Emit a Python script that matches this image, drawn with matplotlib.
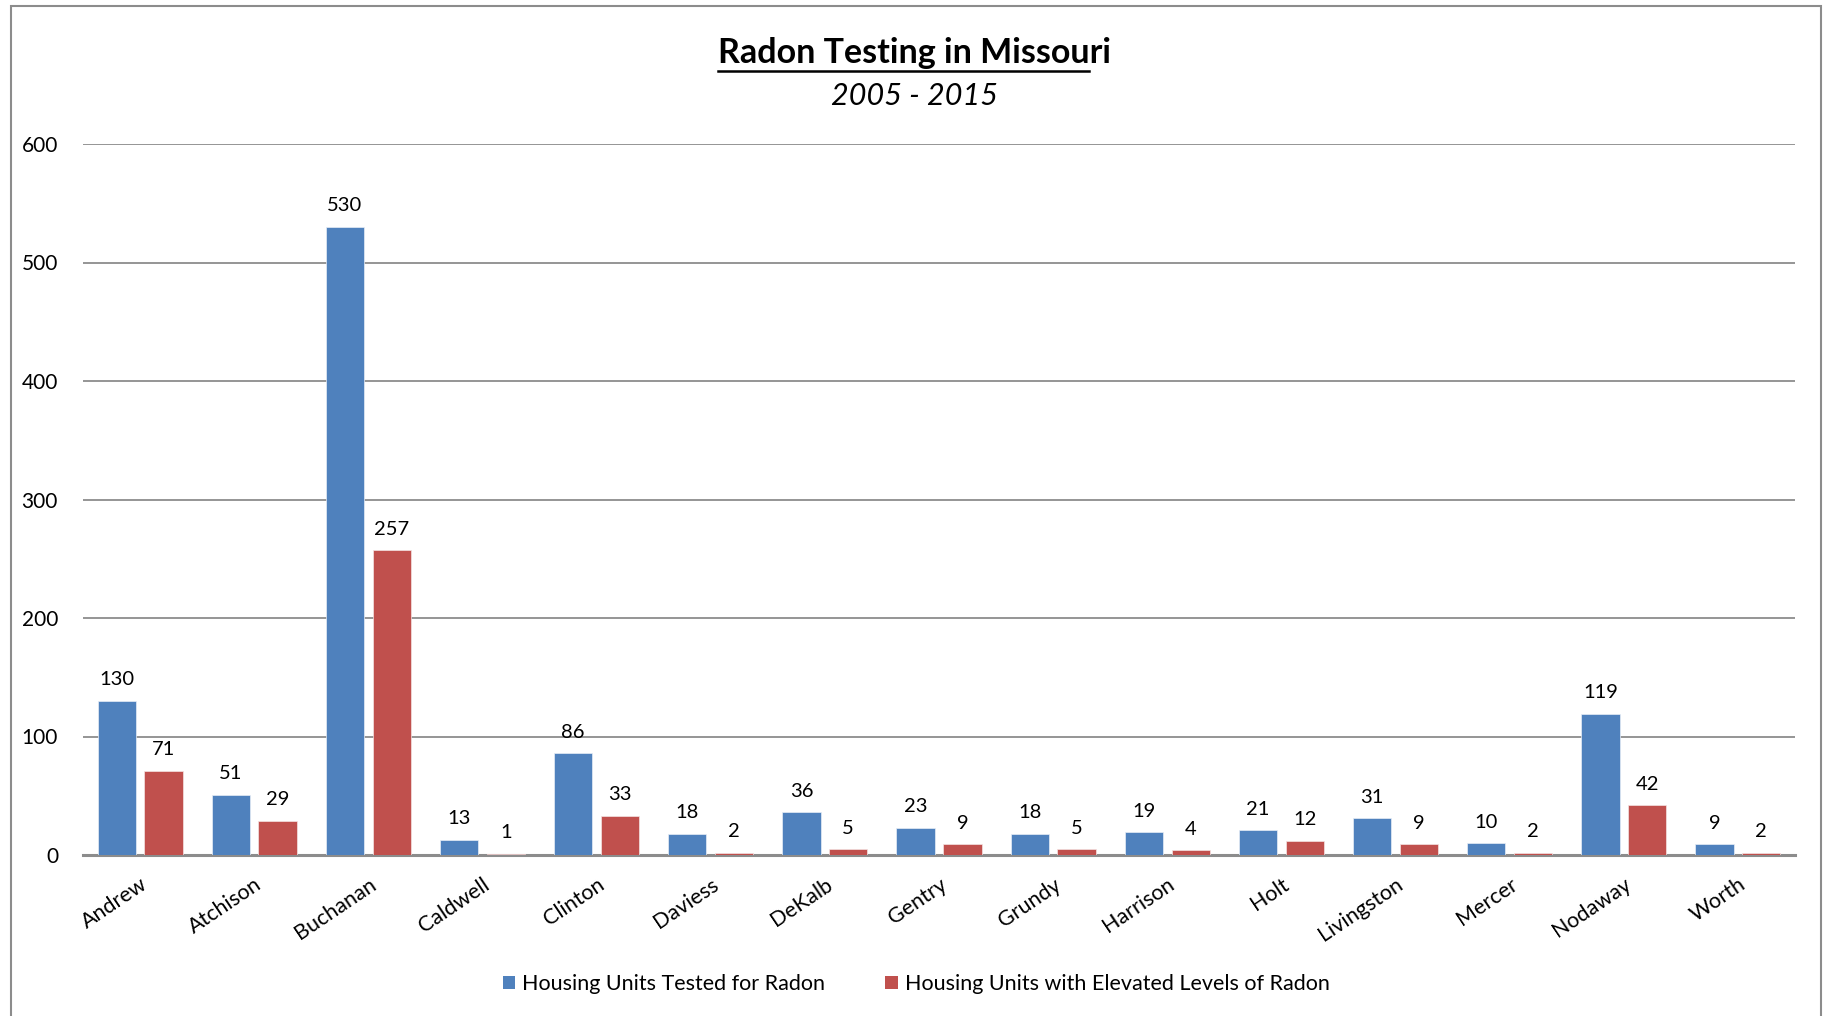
import matplotlib
matplotlib.use("Agg")
import matplotlib.pyplot as plt
from matplotlib.lines import Line2D
from matplotlib.patches import Patch, Rectangle
import numpy as np

COUNTIES = [
    "Andrew", "Atchison", "Buchanan", "Caldwell", "Clinton", "Daviess", "DeKalb",
    "Gentry", "Grundy", "Harrison", "Holt", "Livingston", "Mercer", "Nodaway", "Worth",
]
TESTED = [130, 51, 530, 13, 86, 18, 36, 23, 18, 19, 21, 31, 10, 119, 9]
ELEVATED = [71, 29, 257, 1, 33, 2, 5, 9, 5, 4, 12, 9, 2, 42, 2]
SERIES_NAMES = ["Housing Units Tested for Radon", "Housing Units with Elevated Levels of Radon"]
Y_TICKS = [0, 100, 200, 300, 400, 500, 600]

BLUE = "#4F81BD"
RED = "#C0504D"
GRID = "#8C8C8C"

plt.rcParams["font.family"] = ["Lato", "DejaVu Sans"]

W, H = 1826, 1016
fig = plt.figure(figsize=(W / 100, H / 100), dpi=100)
ax = fig.add_axes([83 / W, 1 - 855 / H, (1795 - 83) / W, (855 - 144) / H])

x = np.arange(len(COUNTIES))
bw = 0.335
off = 0.205
ax.bar(x - off, TESTED, bw, color=BLUE, edgecolor="#E8EEF6", linewidth=0.5, zorder=3)
ax.bar(x + off, ELEVATED, bw, color=RED, edgecolor="#F4E4E4", linewidth=0.5, zorder=3)

for xi, v in zip(x, TESTED):
    ax.annotate(str(v), (xi - off, v), xytext=(0, 9), textcoords="offset points",
                ha="center", va="bottom", fontsize=14.5)
for xi, v in zip(x, ELEVATED):
    ax.annotate(str(v), (xi + off, v), xytext=(0, 9), textcoords="offset points",
                ha="center", va="bottom", fontsize=14.5)

ax.set_xlim(-0.5, len(COUNTIES) - 0.5)
ax.set_ylim(0, 600)
ax.set_yticks(Y_TICKS)
ax.set_yticklabels([str(t) for t in Y_TICKS], fontsize=15)
ax.set_xticks(x)
ax.set_xticklabels(COUNTIES, fontsize=15.5, rotation=34, ha="right", rotation_mode="anchor")
ax.tick_params(axis="y", length=0, pad=18)
ax.tick_params(axis="x", length=0, pad=14)
ax.grid(axis="y", color=GRID, linewidth=1.3, zorder=0)
for s in ["top", "right", "left"]:
    ax.spines[s].set_visible(False)
ax.spines["bottom"].set_color(GRID)
ax.spines["bottom"].set_linewidth(2.2)
ax.spines["bottom"].set_zorder(2)

# title and subtitle
title = "Radon Testing in Missouri"
t = fig.text(914 / W, 1 - 53 / H, title, ha="center", va="center",
             fontsize=24.5, fontweight="bold")
fig.text(914 / W, 1 - 96 / H, "2005 - 2015", ha="center", va="center",
         fontsize=22, fontstyle="italic")

renderer = fig.canvas.get_renderer()
bb = t.get_window_extent(renderer)
probe = fig.text(0, 0, "Radon Testing in Missou", fontsize=24.5, fontweight="bold")
pw = probe.get_window_extent(renderer).width
probe.remove()
uy = bb.y0 - 2
fig.add_artist(Line2D([bb.x0, bb.x0 + pw], [uy, uy], transform=None,
                      color="black", linewidth=1.8))

handles = [Patch(facecolor=BLUE, edgecolor="none", label=SERIES_NAMES[0]),
           Patch(facecolor=RED, edgecolor="none", label=SERIES_NAMES[1])]
fig.legend(handles=handles, loc="center", bbox_to_anchor=(916 / W, 1 - 984 / H), ncol=2,
           frameon=False, fontsize=15.5, handlelength=0.6, handleheight=0.6,
           handletextpad=0.3, columnspacing=2.8)

fig.add_artist(Rectangle((11 / W, -0.05), (1821 - 11) / W, 1.05 - 6 / H,
                         transform=fig.transFigure, fill=False,
                         edgecolor="#8C8C8C", linewidth=1.5))

fig.savefig("out.png", dpi=100)
